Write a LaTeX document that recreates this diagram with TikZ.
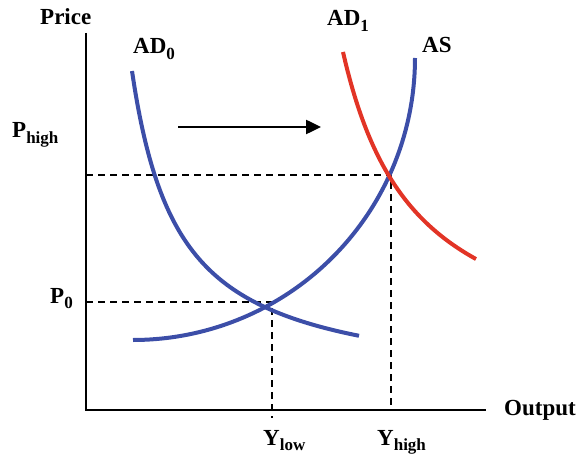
\documentclass[tikz,border=0pt]{standalone}
\usepackage{fontspec}
\setmainfont{Liberation Serif}
\usetikzlibrary{arrows.meta}
\definecolor{curveblue}{RGB}{60,78,168}
\definecolor{curvered}{RGB}{226,52,38}
\newcommand{\lbl}{\fontsize{23}{26}\selectfont\bfseries}
\newcommand{\sbs}[1]{\raisebox{-0.22em}{\fontsize{17}{19}\selectfont #1}}
\tikzset{
  lab/.style={anchor=base west, inner sep=0pt, font=\lbl},
  axisline/.style={line width=2.5pt, black},
  guide/.style={line width=1.8pt, dash pattern=on 7pt off 5pt, black},
  curve/.style={line width=4pt},
  shiftarrow/.style={line width=2.5pt, -{Triangle[length=15pt,width=14pt]}}
}
\begin{document}
\begin{tikzpicture}[x=1pt,y=-1pt]
\useasboundingbox (0,0) rectangle (585,454);
% coordinates
\coordinate (ytop) at (86,33);
\coordinate (orig) at (86,410);
\coordinate (xend) at (486,410);
\coordinate (eq0) at (272,302);
\coordinate (eq1) at (391,175);
\coordinate (p0axis) at (86,302);
\coordinate (phaxis) at (86,175);
\coordinate (ylowbot) at (272,418);
\coordinate (yhighbot) at (391,410);
\coordinate (arrs) at (178,127);
\coordinate (arre) at (321,127);
% dashed guides
\draw[guide] (phaxis) -- (eq1) -- (yhighbot);
\draw[guide] (p0axis) -- (eq0) -- (ylowbot);
% axes
\draw[axisline] (ytop) -- (orig) -- (xend);
% curves
\draw[curve, curveblue] plot[domain=132:359, samples=80, smooth] (\x, {390.6-150.2/(\x-85)*100});
\draw[curve, curveblue] plot[domain=90:0, samples=80, smooth] ({133+282*cos(\x)}, {58+282*sin(\x)});
\draw[curve, curvered] plot[domain=343:476, samples=80, smooth] (\x, {372.7-234.13/(\x-270)*100});
% shift arrow
\draw[shiftarrow] (arrs) -- (arre);
% labels
\node[lab] (price) at (40,25) {Price};
\node[lab] (ad0) at (133,54) {AD\sbs{0}};
\node[lab] (ad1) at (327,26) {AD\sbs{1}};
\node[lab] (as) at (422,53) {AS};
\node[lab] (phigh) at (12,138) {P\sbs{high}};
\node[lab] (p0) at (50,303) {P\sbs{0}};
\node[lab] (ylow) at (263,445) {Y\sbs{low}};
\node[lab] (yhigh) at (377,445) {Y\sbs{high}};
\node[lab] (output) at (504,415) {Output};
\end{tikzpicture}
\end{document}
